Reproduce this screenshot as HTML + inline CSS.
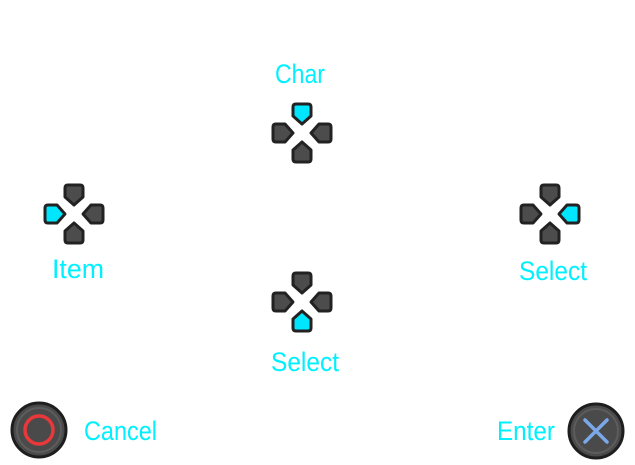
<!DOCTYPE html>
<html><head><style>html,body{margin:0;padding:0;background:#fff;width:635px;height:465px;overflow:hidden}</style></head>
<body>
<svg width="635" height="465" viewBox="0 0 635 465" xmlns="http://www.w3.org/2000/svg">
<defs>
<path id="arm" d="M-9,-26 Q-9,-29 -6,-29 L6,-29 Q9,-29 9,-26 L9,-17 L0,-9 L-9,-17 Z"/>
</defs>
<g font-family="'Liberation Sans Narrow','Liberation Sans',sans-serif" font-size="27" fill="#00f0ff">
<text x="300" y="83" text-anchor="middle" textLength="50" lengthAdjust="spacingAndGlyphs">Char</text>
<text x="78" y="278" text-anchor="middle" textLength="52" lengthAdjust="spacingAndGlyphs">Item</text>
<text x="553" y="280" text-anchor="middle" textLength="68" lengthAdjust="spacingAndGlyphs">Select</text>
<text x="305" y="371" text-anchor="middle" textLength="68" lengthAdjust="spacingAndGlyphs">Select</text>
<text x="84" y="440" textLength="73" lengthAdjust="spacingAndGlyphs">Cancel</text>
<text x="555" y="440" text-anchor="end" textLength="58" lengthAdjust="spacingAndGlyphs">Enter</text>
</g>
<g id="dpads"></g>
<g>
<circle cx="39" cy="430" r="27" fill="#4a4a4a" stroke="#1e1e1e" stroke-width="3"/>
<circle cx="39" cy="430" r="22" fill="none" stroke="#5c5c5c" stroke-width="2"/>
<circle cx="39" cy="430" r="14" fill="none" stroke="#e8383a" stroke-width="3.5"/>
</g>
<g>
<circle cx="596" cy="431" r="27" fill="#4a4a4a" stroke="#1e1e1e" stroke-width="3"/>
<circle cx="596" cy="431" r="22" fill="none" stroke="#5c5c5c" stroke-width="2"/>
<path d="M585,420 L607,442 M607,420 L585,442" stroke="#7aa8e8" stroke-width="3.5" stroke-linecap="round"/>
</g>
</svg>
<script>
const pads=[{x:302,y:133,h:0,n:'dpad-char'},{x:74,y:214,h:3,n:'dpad-item'},{x:550,y:214,h:1,n:'dpad-select-right'},{x:302,y:302,h:2,n:'dpad-select-down'}];
const g=document.getElementById('dpads');const ns='http://www.w3.org/2000/svg';
pads.forEach(p=>{
 const pg=document.createElementNS(ns,'g');
 
 
 pg.setAttribute('transform',`translate(${p.x},${p.y})`);
 for(let i=0;i<4;i++){
  const u=document.createElementNS(ns,'use');
  u.setAttribute('href','#arm');
  u.setAttribute('transform',`rotate(${i*90})`);
  u.setAttribute('fill',i===p.h?'#00e6ff':'#4c4c4c');
  u.setAttribute('stroke','#222');
  u.setAttribute('stroke-width','3');
  u.setAttribute('stroke-linejoin','round');
  
  
  pg.appendChild(u);
 }
 g.appendChild(pg);
});
</script>
</body></html>
